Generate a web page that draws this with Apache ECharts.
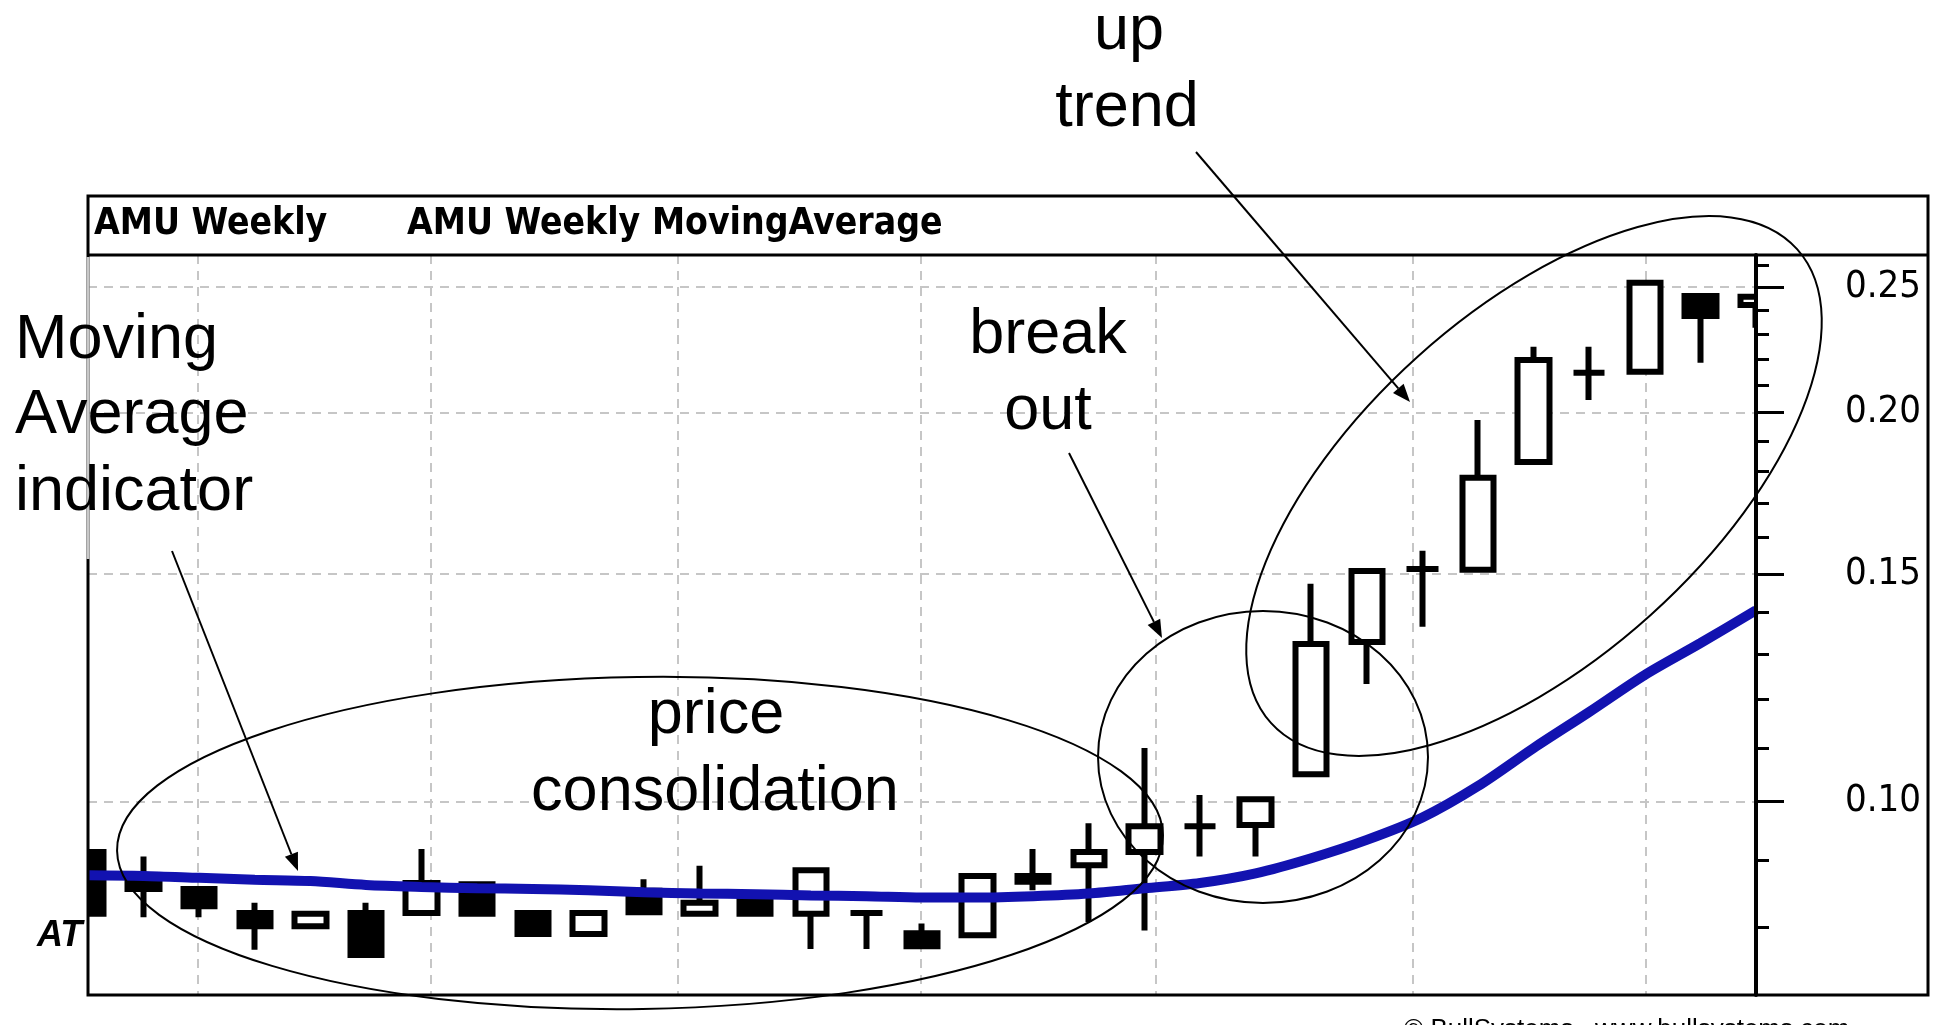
<!DOCTYPE html>
<html>
<head>
<meta charset="utf-8">
<title>AMU Weekly</title>
<script src="https://cdn.jsdelivr.net/npm/echarts@6/dist/echarts.min.js"></script>
<style>
  html, body { margin: 0; padding: 0; background: #fff; }
  #chart { width: 1934px; height: 1025px; }
</style>
</head>
<body>
<div id="chart"></div>
<script>
// weekly bars
var weeks = ['W01', 'W02', 'W03', 'W04', 'W05', 'W06', 'W07', 'W08', 'W09', 'W10',
  'W11', 'W12', 'W13', 'W14', 'W15', 'W16', 'W17', 'W18', 'W19', 'W20',
  'W21', 'W22', 'W23', 'W24', 'W25', 'W26', 'W27', 'W28', 'W29', 'W30', 'W31']
var openPrice = [0.0914, 0.0876, 0.0856, 0.0820, 0.0801, 0.0820, 0.0820, 0.0863, 0.0820, 0.0790,
  0.0853, 0.0819, 0.0849, 0.0819, 0.0820, 0.0791, 0.0788, 0.0876, 0.0893, 0.0914,
  0.0957, 0.0959, 0.1050, 0.1329, 0.1513, 0.1511, 0.1831, 0.2146, 0.2150, 0.2461, 0.2422]
var closePrice = [0.0819, 0.0856, 0.0830, 0.0801, 0.0819, 0.0761, 0.0865, 0.0819, 0.0790, 0.0820,
  0.0821, 0.0835, 0.0819, 0.0885, 0.0820, 0.0773, 0.0876, 0.0867, 0.0914, 0.0957,
  0.0957, 0.1004, 0.1324, 0.1508, 0.1513, 0.1780, 0.2196, 0.2146, 0.2519, 0.2375, 0.2457]
var lowPrice = [0.0819, 0.0814, 0.0814, 0.0768, 0.0801, 0.0761, 0.0820, 0.0819, 0.0790, 0.0790,
  0.0821, 0.0819, 0.0819, 0.0769, 0.0769, 0.0773, 0.0788, 0.0854, 0.0807, 0.0795,
  0.0907, 0.0907, 0.1050, 0.1233, 0.1365, 0.1511, 0.1831, 0.2045, 0.2150, 0.2185, 0.2325]
var highPrice = [0.0914, 0.0907, 0.0856, 0.0835, 0.0819, 0.0835, 0.0919, 0.0863, 0.0820, 0.0820,
  0.0871, 0.0892, 0.0849, 0.0885, 0.0820, 0.0805, 0.0876, 0.0919, 0.0962, 0.1100,
  0.1012, 0.1004, 0.1474, 0.1508, 0.1563, 0.1973, 0.2248, 0.2248, 0.2519, 0.2461, 0.2457]
var movingAvg = [0.0877, 0.0876, 0.0873, 0.0870, 0.0868, 0.0862, 0.0859, 0.0857, 0.0856, 0.0854,
  0.0851, 0.0849, 0.0848, 0.0846, 0.0845, 0.0843, 0.0843, 0.0845, 0.0849, 0.0857,
  0.0865, 0.0880, 0.0904, 0.0934, 0.0972, 0.1028, 0.1100, 0.1173, 0.1253, 0.1326, 0.1406]

// axis ticks
var priceTicks = [0.10, 0.15, 0.20, 0.25]
var minorTicks = [0.08, 0.09, 0.11, 0.12, 0.13, 0.14, 0.16, 0.17, 0.18, 0.19, 0.21, 0.22, 0.23, 0.24, 0.26]
var monthGrid = [1.97, 6.16, 10.6, 14.98, 19.2, 23.83, 28.02]

var candles = weeks.map(function (w, i) {
  return [openPrice[i], closePrice[i], lowPrice[i], highPrice[i]]
})

var gridLine = { color: '#c6c6c6', width: 2, type: [9, 7] }
var bigFont = '63px "Liberation Sans", Arial, sans-serif'
var headFont = 'bold 37px "DejaVu Sans Condensed", "DejaVu Sans", sans-serif'
var yMin = 0.07086
var yMax = 0.2647

function label(text, x, y, align, font) {
  return {
    type: 'text', x: x, y: y, z: 100,
    style: { text: text, font: font || bigFont, fill: '#000', align: align || 'center', verticalAlign: 'middle' }
  }
}

function arrow(x1, y1, x2, y2) {
  var a = Math.atan2(y2 - y1, x2 - x1)
  var bx = x2 - 18 * Math.cos(a)
  var by = y2 - 18 * Math.sin(a)
  var s = Math.sin(a)
  var c = Math.cos(a)
  return [
    { type: 'line', z: 100, shape: { x1: x1, y1: y1, x2: bx, y2: by }, style: { stroke: '#000', lineWidth: 2 } },
    { type: 'polygon', z: 100, shape: { points: [[x2, y2], [bx - 7 * s, by + 7 * c], [bx + 7 * s, by - 7 * c]] }, style: { fill: '#000' } }
  ]
}

function ring(cx, cy, rx, ry, rot) {
  return {
    type: 'ellipse', x: cx, y: cy, rotation: rot, z: 100,
    shape: { cx: 0, cy: 0, rx: rx, ry: ry },
    style: { fill: 'none', stroke: '#000', lineWidth: 2 }
  }
}

var graphics = [
  // white masks so the edge candles look cut by the plot frame
  { type: 'rect', z: 50, shape: { x: 40, y: 840, width: 47, height: 81 }, style: { fill: '#fff' } },
  { type: 'rect', z: 50, shape: { x: 1758, y: 284, width: 42, height: 52 }, style: { fill: '#fff' } },
  // chart frame and header band
  { type: 'rect', z: 90, shape: { x: 88, y: 196, width: 1840, height: 799 }, style: { fill: 'none', stroke: '#000', lineWidth: 3 } },
  { type: 'line', z: 90, shape: { x1: 88, y1: 255, x2: 1928, y2: 255 }, style: { stroke: '#000', lineWidth: 3 } },
  { type: 'line', z: 91, shape: { x1: 88, y1: 257, x2: 88, y2: 559 }, style: { stroke: '#c8c8c8', lineWidth: 3 } },
  label('AMU Weekly', 94, 224, 'left', headFont),
  label('AMU Weekly MovingAverage', 407, 224, 'left', headFont),
  label('AT', 37, 936, 'left', 'italic bold 36px "Liberation Sans", Arial, sans-serif'),
  label('\u00a9 BullSystems   www.bullsystems.com', 1404, 1030, 'left', '26px "Liberation Sans", Arial, sans-serif'),
  // annotations
  label('up', 1129, 32),
  label('trend', 1127, 109),
  label('break', 1048, 336),
  label('out', 1048, 412),
  label('price', 716, 716),
  label('consolidation', 715, 793),
  label('Moving', 15, 341, 'left'),
  label('Average', 15, 416, 'left'),
  label('indicator', 15, 493, 'left'),
  ring(640, 843, 523, 166, 0.015),
  ring(1263, 757, 165, 146, 0),
  ring(1534, 486, 354, 174, 0.733)
].concat(arrow(172, 551, 298, 871), arrow(1069, 453, 1162, 638), arrow(1196, 152, 1410, 402))

var option = {
  backgroundColor: '#fff',
  animation: false,
  grid: { left: 88, right: 178, top: 255, bottom: 30, show: false, outerBoundsMode: 'none' },
  xAxis: [
    {
      type: 'category', data: weeks, boundaryGap: false,
      axisLine: { show: false, onZero: false }, axisTick: { show: false }, axisLabel: { show: false }, splitLine: { show: false }
    },
    {
      type: 'value', min: 0, max: 30, position: 'bottom',
      axisLine: { show: false, onZero: false },
      axisTick: { show: false, customValues: monthGrid },
      axisLabel: { show: false, customValues: monthGrid },
      splitLine: { show: true, lineStyle: gridLine }
    }
  ],
  yAxis: [
    {
      // dashed price grid, kept behind the bars
      type: 'log', logBase: 10, min: yMin, max: yMax, position: 'right', offset: 0,
      axisLine: { show: false, onZero: false },
      axisTick: { show: false, customValues: priceTicks },
      axisLabel: { show: false, customValues: priceTicks },
      splitLine: { show: true, lineStyle: gridLine }
    },
    {
      type: 'log', logBase: 10, min: yMin, max: yMax, position: 'right', offset: 0, z: 60,
      axisLine: { show: true, onZero: false, lineStyle: { color: '#000', width: 4 } },
      axisTick: { show: true, customValues: priceTicks, length: 28, lineStyle: { color: '#000', width: 3 } },
      axisLabel: {
        show: true, customValues: priceTicks, margin: 165, align: 'right', color: '#000',
        fontSize: 38, fontFamily: '"DejaVu Sans Condensed", "DejaVu Sans", sans-serif',
        formatter: function (v) { return Number(v).toFixed(2) }
      },
      splitLine: { show: false }
    },
    {
      type: 'log', logBase: 10, min: yMin, max: yMax, position: 'right', offset: 0, z: 60,
      axisLine: { show: false, onZero: false },
      axisTick: { show: true, customValues: minorTicks, length: 13, lineStyle: { color: '#000', width: 3 } },
      axisLabel: { show: false },
      splitLine: { show: false }
    }
  ],
  series: [
    {
      name: 'AMU Weekly', type: 'candlestick', data: candles, barWidth: 32, yAxisIndex: 1,
      itemStyle: {
        color: '#fff', color0: '#000', borderColor: '#000', borderColor0: '#000',
        borderColorDoji: '#000', borderWidth: 6
      }
    },
    {
      name: 'AMU Weekly Moving Average', type: 'line', data: movingAvg, yAxisIndex: 1,
      symbol: 'none', smooth: 0.3, z: 3,
      lineStyle: { color: '#1212b0', width: 10 }
    }
  ],
  graphic: graphics
}

var myChart = echarts.init(document.getElementById('chart'))
myChart.setOption(option)
</script>
</body>
</html>
